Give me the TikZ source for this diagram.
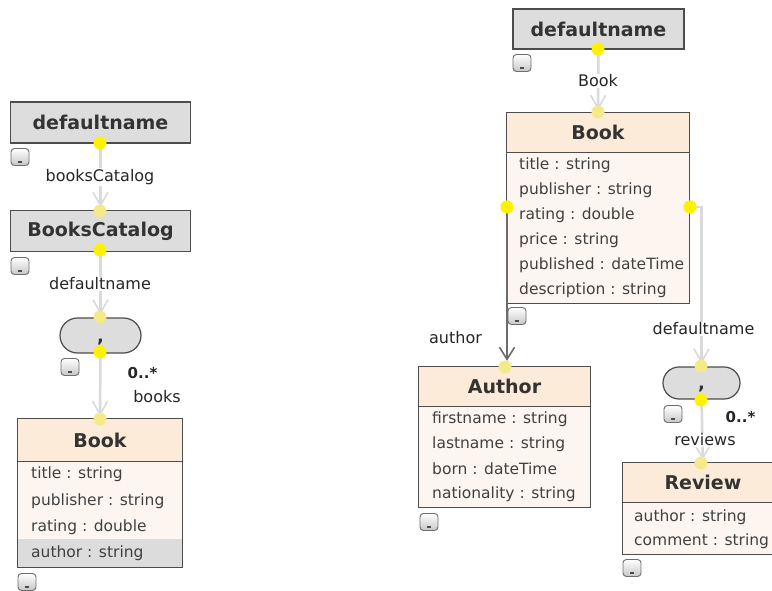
\documentclass[tikz,border=0pt]{standalone}
\usepackage{fontspec}
\setmainfont{DejaVu Sans}
\usetikzlibrary{arrows.meta,shapes.misc}
\definecolor{boxgray}{HTML}{DDDDDD}
\definecolor{edgegray}{HTML}{4D4D4D}
\definecolor{headfill}{HTML}{FBEBD8}
\definecolor{bodyfill}{HTML}{FDF6F0}
\definecolor{linkgray}{HTML}{DADADA}
\definecolor{linkdark}{HTML}{6B6B6B}
\definecolor{rowsel}{HTML}{DCDCDC}
\definecolor{dotpale}{HTML}{F4EA8A}
\definecolor{btnedge}{HTML}{6E6E6E}

\tikzset{
  namebox/.style={draw=edgegray, line width=1.3pt, fill=boxgray, inner sep=0pt,
    font=\fontsize{19}{22}\selectfont\bfseries, text=black!80},
  clshead/.style={fill=headfill, inner sep=0pt,
    font=\fontsize{19}{22}\selectfont\bfseries, text=black!80},
  clsbody/.style={fill=bodyfill, inner sep=0pt},
  clsframe/.style={draw=edgegray, line width=1.3pt},
  selrow/.style={fill=rowsel, inner sep=0pt},
  attr/.style={anchor=west, inner sep=0pt, font=\fontsize{15.5}{18}\selectfont, text=black!75},
  lbl/.style={fill=white, inner sep=1pt, font=\fontsize{16}{18}\selectfont, text=black!85},
  mult/.style={inner sep=0pt, font=\fontsize{15}{18}\selectfont\bfseries, text=black!85},
  pill/.style={draw=edgegray, line width=1.2pt, fill=boxgray, rounded rectangle,
    inner sep=0pt, text height=13pt, text depth=0pt,
    font=\fontsize{18}{22}\selectfont\bfseries, text=black!80},
  link/.style={draw=linkgray, line width=2.5pt, shorten >=3pt,
    -{Straight Barb[length=13pt,width=15pt,line width=1.6pt]}},
  linkd/.style={draw=linkdark, line width=2.6pt, shorten >=6pt,
    -{Straight Barb[length=12pt,width=15pt,line width=1.6pt]}},
  srcdot/.style={circle, fill=yellow, minimum size=13pt, inner sep=0pt},
  tgtdot/.style={circle, fill=dotpale, minimum size=13pt, inner sep=0pt},
  btn/.style={draw=btnedge, line width=0.9pt, rounded corners=3.5pt,
    top color=white, bottom color=black!22, minimum width=18pt, minimum height=17pt,
    inner sep=0pt,
    path picture={\draw[line width=1.1pt, black!70]
      ([xshift=-1.6pt,yshift=3.5pt]path picture bounding box.south) -- ++(3.2pt,0);}},
}

\begin{document}
\begin{tikzpicture}[x=1pt,y=-1pt]
\useasboundingbox (0,0) rectangle (772,591);
\clip (0,0) rectangle (772,591);
\fill[white] (0,0) rectangle (772,591);

% ---------- left model ----------
\node[namebox, minimum width=180pt, minimum height=41pt] (dnA) at (100.5,122.5) {defaultname};
\node[namebox, minimum width=180pt, minimum height=41pt] (cat) at (100.5,231) {BooksCatalog};
\node[pill, minimum width=81pt, minimum height=35pt] (pillA) at (100.5,335.5) {,};

\node[clshead, minimum width=164pt, minimum height=42pt] (bkAh) at (100,440) {Book};
\node[clsbody, minimum width=164pt, minimum height=106pt, anchor=north] (bkAb) at (bkAh.south) {};
\node[selrow, minimum width=164pt, minimum height=28pt] (bkAsel) at (100,553) {};
\draw[clsframe] (bkAh.north west) rectangle (bkAb.south east);
\draw[clsframe] (bkAh.south west) -- (bkAh.south east);
\node[attr] (bkAa1) at (31,474) {title : string};
\node[attr] (bkAa2) at (31,501) {publisher : string};
\node[attr] (bkAa3) at (31,527) {rating : double};
\node[attr] (bkAa4) at (31,553) {author : string};

\draw[link] (dnA.south) -- (cat.north);
\draw[link] (cat.south) -- (pillA.north);
\draw[link] (pillA.south) -- (bkAh.north);

\node[lbl] (lbCat) at (100,177) {booksCatalog};
\node[lbl] (lbDnA) at (100,284) {defaultname};
\node[mult] (mulA) at (142.5,373) {0..*};
\node[lbl, fill=none] (lbBooks) at (157,397) {books};

\node[btn] (btA1) at (20,157) {};
\node[btn] (btA2) at (20,266) {};
\node[btn] (btA3) at (70,367) {};
\node[btn] (btA4) at (27,582) {};

\node[srcdot] (dA1) at (100,143) {};
\node[tgtdot] (dA2) at (100,211) {};
\node[srcdot] (dA3) at (100,250) {};
\node[tgtdot] (dA4) at (100,317) {};
\node[srcdot] (dA5) at (100,352) {};
\node[tgtdot] (dA6) at (100,419) {};

% ---------- right model ----------
\node[namebox, minimum width=171pt, minimum height=40pt] (dnB) at (598.5,29) {defaultname};

\node[clshead, minimum width=182pt, minimum height=39pt] (bkBh) at (598,132.5) {Book};
\node[clsbody, minimum width=182pt, minimum height=151pt, anchor=north] (bkBb) at (bkBh.south) {};
\draw[clsframe] (bkBh.north west) rectangle (bkBb.south east);
\draw[clsframe] (bkBh.south west) -- (bkBh.south east);
\node[attr] (bkBa1) at (519,165) {title : string};
\node[attr] (bkBa2) at (519,190) {publisher : string};
\node[attr] (bkBa3) at (519,215) {rating : double};
\node[attr] (bkBa4) at (519,240) {price : string};
\node[attr] (bkBa5) at (519,265) {published : dateTime};
\node[attr] (bkBa6) at (519,290) {description : string};

\node[clshead, minimum width=171pt, minimum height=39pt] (auh) at (504.5,386.5) {Author};
\node[clsbody, minimum width=171pt, minimum height=101pt, anchor=north] (aub) at (auh.south) {};
\draw[clsframe] (auh.north west) rectangle (aub.south east);
\draw[clsframe] (auh.south west) -- (auh.south east);
\node[attr] (aua1) at (432,419) {firstname : string};
\node[attr] (aua2) at (432,444) {lastname : string};
\node[attr] (aua3) at (432,469) {born : dateTime};
\node[attr] (aua4) at (432,494) {nationality : string};

\node[pill, minimum width=77pt, minimum height=32pt] (pillB) at (701.5,383) {,};

\node[clshead, minimum width=160pt, minimum height=39pt] (rvh) at (703,482.5) {Review};
\node[clsbody, minimum width=160pt, minimum height=52pt, anchor=north] (rvb) at (rvh.south) {};
\draw[clsframe] (rvh.north west) rectangle (rvb.south east);
\draw[clsframe] (rvh.south west) -- (rvh.south east);
\node[attr] (rva1) at (634,517) {author : string};
\node[attr] (rva2) at (634,541) {comment : string};

\node[srcdot] (dB2) at (507,207) {};
\node[srcdot] (dB3) at (690,207) {};

\draw[link] (dnB.south) -- (bkBh.north);
\draw[linkd] (dB2.center) -- (dB2.center |- auh.north);
\draw[draw=linkgray, line width=2.2pt, shorten >=3pt,
  -{Straight Barb[length=13pt,width=15pt,line width=1.6pt]}]
  (dB3.center) -| (pillB.north);
\draw[link] (pillB.south) -- (rvh.north);

\node[lbl] (lbBook) at (598,81) {Book};
\node[lbl, fill=none] (lbAuth) at (455.5,338) {author};
\node[lbl] (lbDnB) at (703.5,329) {defaultname};
\node[mult] (mulB) at (740.5,417) {0..*};
\node[lbl] (lbRev) at (705,440) {reviews};

\node[btn] (btB1) at (522,63) {};
\node[btn] (btB2) at (517,316) {};
\node[btn] (btB3) at (429,522) {};
\node[btn] (btB4) at (673,414) {};
\node[btn] (btB5) at (632,568) {};

\node[srcdot] (dB1) at (598,49) {};
\node[tgtdot] (dB4) at (598,112) {};
\node[srcdot] at (dB2) {};
\node[srcdot] at (dB3) {};
\node[tgtdot] (dB5) at (505,367) {};
\node[tgtdot] (dB6) at (701,366) {};
\node[srcdot] (dB7) at (701,400) {};
\node[tgtdot] (dB8) at (701,463) {};
\end{tikzpicture}
\end{document}
